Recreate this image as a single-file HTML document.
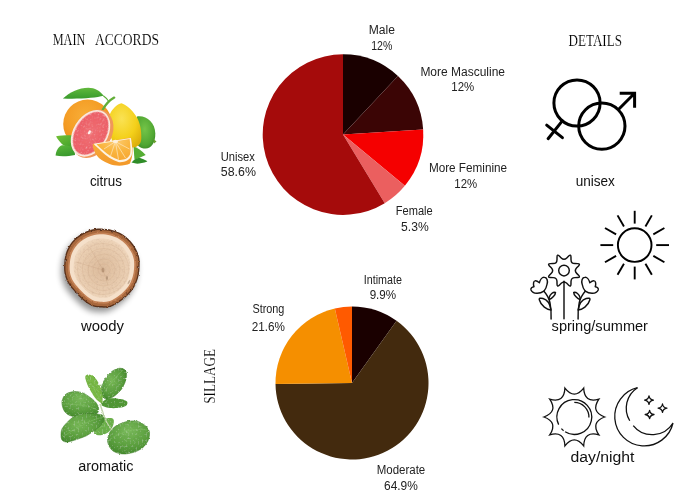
<!DOCTYPE html>
<html><head><meta charset="utf-8">
<style>
html,body{margin:0;padding:0;background:#fff;width:700px;height:500px;overflow:hidden}
svg{display:block;will-change:transform}
.l{font-family:"Liberation Sans",sans-serif;font-size:12px;fill:#222}
.c{font-family:"Liberation Sans",sans-serif;font-size:14px;fill:#111}
.h{font-family:"Liberation Serif",serif;font-size:16px;fill:#000;stroke:#fff;stroke-width:0.12px}
</style></head><body>
<svg width="700" height="500" viewBox="0 0 700 500">
<defs>
<radialGradient id="gOr" cx="0.45" cy="0.35" r="0.7">
<stop offset="0" stop-color="#f8ae38"/><stop offset="0.6" stop-color="#f49c24"/><stop offset="1" stop-color="#e58616"/>
</radialGradient>
<radialGradient id="gLem" cx="0.4" cy="0.35" r="0.75">
<stop offset="0" stop-color="#fae254"/><stop offset="0.6" stop-color="#f4d01a"/><stop offset="1" stop-color="#dcae0a"/>
</radialGradient>
<radialGradient id="gLime" cx="0.45" cy="0.4" r="0.7">
<stop offset="0" stop-color="#74c448"/><stop offset="0.7" stop-color="#4fa632"/><stop offset="1" stop-color="#367f22"/>
</radialGradient>
<radialGradient id="gGf" cx="0.5" cy="0.5" r="0.55">
<stop offset="0" stop-color="#f29090"/><stop offset="0.12" stop-color="#ef6c70"/><stop offset="1" stop-color="#eb5c64"/>
</radialGradient>
<linearGradient id="gLeaf" x1="0" y1="0" x2="0" y2="1">
<stop offset="0" stop-color="#62b83c"/><stop offset="0.5" stop-color="#4caa34"/><stop offset="1" stop-color="#3a9a2c"/>
</linearGradient>
<radialGradient id="gWedge" cx="0.55" cy="0.1" r="0.9">
<stop offset="0" stop-color="#fccb70"/><stop offset="0.5" stop-color="#fab640"/><stop offset="1" stop-color="#f7a832"/>
</radialGradient>
<radialGradient id="gWood" cx="0.5" cy="0.5" r="0.5">
<stop offset="0" stop-color="#dcbb9c"/><stop offset="0.5" stop-color="#e4c6a8"/><stop offset="0.9" stop-color="#ebd0b4"/><stop offset="1" stop-color="#efd6bc"/>
</radialGradient>
<radialGradient id="gShadow" cx="0.5" cy="0.5" r="0.5">
<stop offset="0" stop-color="#000" stop-opacity="0.45"/><stop offset="0.7" stop-color="#000" stop-opacity="0.25"/><stop offset="1" stop-color="#000" stop-opacity="0"/>
</radialGradient>
<radialGradient id="gMint" cx="0.4" cy="0.4" r="0.7">
<stop offset="0" stop-color="#78b858"/><stop offset="0.6" stop-color="#5a9e3e"/><stop offset="1" stop-color="#3e822a"/>
</radialGradient>
<radialGradient id="gMint2" cx="0.5" cy="0.3" r="0.75">
<stop offset="0" stop-color="#7aba5c"/><stop offset="0.6" stop-color="#5ca040"/><stop offset="1" stop-color="#42882c"/>
</radialGradient>
<filter id="leaf" x="-10%" y="-10%" width="120%" height="120%">
<feTurbulence type="fractalNoise" baseFrequency="0.5" numOctaves="2" seed="4" result="n"/>
<feDisplacementMap in="SourceGraphic" in2="n" scale="2.4" xChannelSelector="R" yChannelSelector="G" result="d"/>
<feColorMatrix in="n" type="matrix" values="0 0 0 0 0.8  0 0 0 0 0.92  0 0 0 0 0.7  0.9 0 0 0 -0.5" result="w"/>
<feComposite in="w" in2="d" operator="in" result="ws"/>
<feColorMatrix in="n" type="matrix" values="0 0 0 0 0.12  0 0 0 0 0.32  0 0 0 0 0.06  0 -1.2 0 0 0.62" result="k"/>
<feComposite in="k" in2="d" operator="in" result="ks"/>
<feMerge><feMergeNode in="d"/><feMergeNode in="ks"/><feMergeNode in="ws"/></feMerge>
</filter>
<filter id="bark" x="-10%" y="-10%" width="120%" height="120%">
<feTurbulence type="fractalNoise" baseFrequency="0.35" numOctaves="2" seed="7" result="n"/>
<feDisplacementMap in="SourceGraphic" in2="n" scale="2.6" xChannelSelector="R" yChannelSelector="G"/>
</filter>
<filter id="grain" x="0" y="0" width="100%" height="100%">
<feTurbulence type="fractalNoise" baseFrequency="0.35" numOctaves="2" seed="2" result="n"/>
<feColorMatrix in="n" type="matrix" values="0 0 0 0 0.6  0 0 0 0 0.42  0 0 0 0 0.3  0 0 0 -1.0 0.55" result="k"/>
<feComposite in="k" in2="SourceGraphic" operator="in" result="ks"/>
<feMerge><feMergeNode in="SourceGraphic"/><feMergeNode in="ks"/></feMerge>
</filter>
<filter id="pulp" x="0" y="0" width="100%" height="100%">
<feTurbulence type="fractalNoise" baseFrequency="0.7" numOctaves="1" seed="9" result="n"/>
<feColorMatrix in="n" type="matrix" values="0 0 0 0 0.85  0 0 0 0 0.2  0 0 0 0 0.28  1.8 0 0 0 -0.95" result="k"/>
<feComposite in="k" in2="SourceGraphic" operator="in" result="ks"/>
<feColorMatrix in="n" type="matrix" values="0 0 0 0 1  0 0 0 0 0.78  0 0 0 0 0.78  0 1.4 0 0 -0.82" result="w"/>
<feComposite in="w" in2="SourceGraphic" operator="in" result="ws"/>
<feMerge><feMergeNode in="SourceGraphic"/><feMergeNode in="ks"/><feMergeNode in="ws"/></feMerge>
</filter>
<linearGradient id="gPeel" x1="0" y1="0" x2="0.3" y2="1">
<stop offset="0" stop-color="#f8b040"/><stop offset="1" stop-color="#f39a2a"/>
</linearGradient>
<linearGradient id="gLfA" x1="0" y1="0" x2="1" y2="1">
<stop offset="0" stop-color="#74c236"/><stop offset="1" stop-color="#3e9e2c"/>
</linearGradient>
<linearGradient id="gLfB" x1="0" y1="0" x2="0.4" y2="1">
<stop offset="0" stop-color="#5cb83a"/><stop offset="1" stop-color="#3a9a2e"/>
</linearGradient>
<filter id="blur2" x="-50%" y="-50%" width="200%" height="200%"><feGaussianBlur stdDeviation="3"/></filter>
</defs>
<!-- headings -->
<text class="h" x="52.7" y="44.8" textLength="32.6" lengthAdjust="spacingAndGlyphs">MAIN</text>
<text class="h" x="94.9" y="44.8" textLength="64.1" lengthAdjust="spacingAndGlyphs">ACCORDS</text>
<text class="h" x="568.5" y="45.8" textLength="53.5" lengthAdjust="spacingAndGlyphs">DETAILS</text>
<text class="h" transform="translate(214.6,403.7) rotate(-90)" x="0" y="0" textLength="54.6" lengthAdjust="spacingAndGlyphs">SILLAGE</text>


<!-- citrus -->
<g id="citrus">
<path d="M133.5,146.5 C137,147.5 142,150.5 145.7,155.1 C142,157 138,158.5 134.5,159.8 Z" fill="#55ad34"/>
<path d="M131.5,162.5 C134,159.5 137,158 139.5,157.8 C142,158.5 145,160 147.4,161.5 C143,163 139,163.8 136,163.6 Z" fill="#2f8c28"/>
<circle cx="87.6" cy="124" r="24.4" fill="url(#gOr)"/>
<path d="M56.1,136.3 C61,135.2 67,135 74,135.2 L75,147 C68,147.5 64,146.5 61.9,144 C59,141 57,138.5 56.1,136.3 Z" fill="url(#gLfA)"/>
<path d="M55.6,155.6 C56,150 59,146.5 62,145.3 C66,145 70,146 74.5,148 L75,155 C68,156.5 61,156.8 55.6,155.6 Z" fill="url(#gLfB)"/>
<path d="M137,116.5 C146,115 155,122 155.3,133.5 C155.5,143 151,148.4 145.7,148.6 C140,148.6 136,145 136,140 Z" fill="url(#gLime)"/>
<path d="M153.5,139 L156.5,141.5 L154,143.5 Z" fill="#6aa030"/>
<path d="M121.5,103.3 C117,104 112,109 109.4,115.4 C107.5,122 108.5,132 112,140 C116,146 126,148 133,147.5 C138,147 141.3,144 141.3,138 C141.5,130 140,122 136,116 C132,110 126,104.5 121.5,103.3 Z" fill="url(#gLem)"/>
<path d="M62.9,98.5 C70,92 79,88 88.3,87.8 C95,87.8 100,91 103.6,95.8 C96,97.8 80,99.2 62.9,98.5 Z" fill="url(#gLeaf)"/>
<path d="M103.3,95.8 C105,97 107,99 108.6,101.2" stroke="#5aae36" stroke-width="1.1" fill="none"/>
<path d="M102.8,109.5 C106,104 110,100 114.2,97.6" stroke="#62ae38" stroke-width="2.3" fill="none" stroke-linecap="round"/>
<ellipse cx="92.4" cy="133.7" rx="18.9" ry="26" transform="rotate(31.4 92.4 133.7)" fill="#f0975a"/>
<ellipse cx="90.5" cy="133.33" rx="17.3" ry="25.2" transform="rotate(31.4 90.5 133.33)" fill="#fbe8de"/>
<ellipse cx="90.7" cy="133.3" rx="15.3" ry="23.2" transform="rotate(31.4 90.7 133.3)" fill="url(#gGf)" filter="url(#pulp)"/>
<ellipse cx="89.4" cy="132.3" rx="1.2" ry="2.2" transform="rotate(30 89.4 132.3)" fill="#fdf0ec"/>
<path d="M92.8,143.9 L130.8,137.6 C133.2,146 133.4,156 130,163.6 C125,166.2 115,166.4 109.6,164 C103,161.3 99,158.5 97.2,156 C94,151.5 92.4,147.5 92.8,143.9 Z" fill="url(#gPeel)"/>
<path d="M93.6,143.8 L130.9,138 C132.3,146 132.6,152 131.6,155.6 C129.5,160.5 124.5,162.6 119,162.2 C112,160 106,156 101,151 C98,148 95.5,146 93.6,143.8 Z" fill="#fdf3e2"/>
<path d="M96.5,144.2 L129.6,139 C130.6,146 130.9,151.5 130,154.6 C128,158.6 124,160.2 119.3,160 C113,158 107.5,154.5 103,150.3 C100.5,148 98.3,146.2 96.5,144.2 Z" fill="url(#gWedge)"/>
<path d="M115.4,141.6 L104,149 M115.4,141.6 L110.5,156 M115.4,141.6 L118.5,159.5 M115.4,141.6 L125.5,158 M115.4,141.6 L129.5,149" stroke="#fde6bc" stroke-width="0.8" opacity="0.9"/>
<ellipse cx="115.4" cy="141.4" rx="2.6" ry="1.6" fill="#fdf0dc"/>
</g>

<!-- wood -->
<g id="wood">
<path d="M101,228.6C104.2,228.7 108.5,229.1 112,230C115.5,230.9 119.0,232.2 122,234C125.0,235.8 127.7,238.0 130,240.5C132.3,243.0 134.4,246.1 136,249C137.6,251.9 138.7,254.7 139.3,258C139.9,261.3 139.7,265.3 139.5,268.6C139.3,271.9 138.9,274.9 138,278C137.1,281.1 135.8,284.5 134,287.5C132.2,290.5 129.7,293.4 127,296C124.3,298.6 120.8,301.2 118,303C115.2,304.8 113.0,306.2 110,307C107.0,307.8 103.1,307.7 100,307.5C96.9,307.3 94.2,306.9 91.4,305.7C88.6,304.4 85.7,302.3 83,300C80.3,297.7 77.5,294.8 75,292C72.5,289.2 69.8,286.2 68,283C66.2,279.8 65.1,276.3 64.5,273C63.9,269.7 64.0,266.3 64.3,263C64.5,259.7 65.0,256.2 66,253C67.0,249.8 68.7,246.7 70.5,244C72.3,241.3 74.6,239.0 77,237C79.4,235.0 82.3,233.3 85,232C87.7,230.7 90.3,229.9 93,229.3C95.7,228.7 97.8,228.5 101,228.6Z" fill="#000" opacity="0.42" transform="translate(-2.5,4.5)" filter="url(#blur2)"/>
<g filter="url(#bark)">
<path d="M101,228.6C104.2,228.7 108.5,229.1 112,230C115.5,230.9 119.0,232.2 122,234C125.0,235.8 127.7,238.0 130,240.5C132.3,243.0 134.4,246.1 136,249C137.6,251.9 138.7,254.7 139.3,258C139.9,261.3 139.7,265.3 139.5,268.6C139.3,271.9 138.9,274.9 138,278C137.1,281.1 135.8,284.5 134,287.5C132.2,290.5 129.7,293.4 127,296C124.3,298.6 120.8,301.2 118,303C115.2,304.8 113.0,306.2 110,307C107.0,307.8 103.1,307.7 100,307.5C96.9,307.3 94.2,306.9 91.4,305.7C88.6,304.4 85.7,302.3 83,300C80.3,297.7 77.5,294.8 75,292C72.5,289.2 69.8,286.2 68,283C66.2,279.8 65.1,276.3 64.5,273C63.9,269.7 64.0,266.3 64.3,263C64.5,259.7 65.0,256.2 66,253C67.0,249.8 68.7,246.7 70.5,244C72.3,241.3 74.6,239.0 77,237C79.4,235.0 82.3,233.3 85,232C87.7,230.7 90.3,229.9 93,229.3C95.7,228.7 97.8,228.5 101,228.6Z" fill="#5a321c"/>
<path d="M101,228.6C104.2,228.7 108.5,229.1 112,230C115.5,230.9 119.0,232.2 122,234C125.0,235.8 127.7,238.0 130,240.5C132.3,243.0 134.4,246.1 136,249C137.6,251.9 138.7,254.7 139.3,258C139.9,261.3 139.7,265.3 139.5,268.6C139.3,271.9 138.9,274.9 138,278C137.1,281.1 135.8,284.5 134,287.5C132.2,290.5 129.7,293.4 127,296C124.3,298.6 120.8,301.2 118,303C115.2,304.8 113.0,306.2 110,307C107.0,307.8 103.1,307.7 100,307.5C96.9,307.3 94.2,306.9 91.4,305.7C88.6,304.4 85.7,302.3 83,300C80.3,297.7 77.5,294.8 75,292C72.5,289.2 69.8,286.2 68,283C66.2,279.8 65.1,276.3 64.5,273C63.9,269.7 64.0,266.3 64.3,263C64.5,259.7 65.0,256.2 66,253C67.0,249.8 68.7,246.7 70.5,244C72.3,241.3 74.6,239.0 77,237C79.4,235.0 82.3,233.3 85,232C87.7,230.7 90.3,229.9 93,229.3C95.7,228.7 97.8,228.5 101,228.6Z" fill="#a8683c" transform="translate(3.57,9.38) scale(0.965)"/>
<path d="M101,228.6C104.2,228.7 108.5,229.1 112,230C115.5,230.9 119.0,232.2 122,234C125.0,235.8 127.7,238.0 130,240.5C132.3,243.0 134.4,246.1 136,249C137.6,251.9 138.7,254.7 139.3,258C139.9,261.3 139.7,265.3 139.5,268.6C139.3,271.9 138.9,274.9 138,278C137.1,281.1 135.8,284.5 134,287.5C132.2,290.5 129.7,293.4 127,296C124.3,298.6 120.8,301.2 118,303C115.2,304.8 113.0,306.2 110,307C107.0,307.8 103.1,307.7 100,307.5C96.9,307.3 94.2,306.9 91.4,305.7C88.6,304.4 85.7,302.3 83,300C80.3,297.7 77.5,294.8 75,292C72.5,289.2 69.8,286.2 68,283C66.2,279.8 65.1,276.3 64.5,273C63.9,269.7 64.0,266.3 64.3,263C64.5,259.7 65.0,256.2 66,253C67.0,249.8 68.7,246.7 70.5,244C72.3,241.3 74.6,239.0 77,237C79.4,235.0 82.3,233.3 85,232C87.7,230.7 90.3,229.9 93,229.3C95.7,228.7 97.8,228.5 101,228.6Z" fill="#c48256" transform="translate(10.20,26.80) scale(0.9)"/>
</g>
<path d="M101,228.6C104.2,228.7 108.5,229.1 112,230C115.5,230.9 119.0,232.2 122,234C125.0,235.8 127.7,238.0 130,240.5C132.3,243.0 134.4,246.1 136,249C137.6,251.9 138.7,254.7 139.3,258C139.9,261.3 139.7,265.3 139.5,268.6C139.3,271.9 138.9,274.9 138,278C137.1,281.1 135.8,284.5 134,287.5C132.2,290.5 129.7,293.4 127,296C124.3,298.6 120.8,301.2 118,303C115.2,304.8 113.0,306.2 110,307C107.0,307.8 103.1,307.7 100,307.5C96.9,307.3 94.2,306.9 91.4,305.7C88.6,304.4 85.7,302.3 83,300C80.3,297.7 77.5,294.8 75,292C72.5,289.2 69.8,286.2 68,283C66.2,279.8 65.1,276.3 64.5,273C63.9,269.7 64.0,266.3 64.3,263C64.5,259.7 65.0,256.2 66,253C67.0,249.8 68.7,246.7 70.5,244C72.3,241.3 74.6,239.0 77,237C79.4,235.0 82.3,233.3 85,232C87.7,230.7 90.3,229.9 93,229.3C95.7,228.7 97.8,228.5 101,228.6Z" fill="#f5e0ca" transform="translate(14.79,38.86) scale(0.855)"/>
<path d="M101,228.6C104.2,228.7 108.5,229.1 112,230C115.5,230.9 119.0,232.2 122,234C125.0,235.8 127.7,238.0 130,240.5C132.3,243.0 134.4,246.1 136,249C137.6,251.9 138.7,254.7 139.3,258C139.9,261.3 139.7,265.3 139.5,268.6C139.3,271.9 138.9,274.9 138,278C137.1,281.1 135.8,284.5 134,287.5C132.2,290.5 129.7,293.4 127,296C124.3,298.6 120.8,301.2 118,303C115.2,304.8 113.0,306.2 110,307C107.0,307.8 103.1,307.7 100,307.5C96.9,307.3 94.2,306.9 91.4,305.7C88.6,304.4 85.7,302.3 83,300C80.3,297.7 77.5,294.8 75,292C72.5,289.2 69.8,286.2 68,283C66.2,279.8 65.1,276.3 64.5,273C63.9,269.7 64.0,266.3 64.3,263C64.5,259.7 65.0,256.2 66,253C67.0,249.8 68.7,246.7 70.5,244C72.3,241.3 74.6,239.0 77,237C79.4,235.0 82.3,233.3 85,232C87.7,230.7 90.3,229.9 93,229.3C95.7,228.7 97.8,228.5 101,228.6Z" fill="url(#gWood)" filter="url(#grain)" transform="translate(25.50,67.00) scale(0.75)"/>
<g fill="none" stroke="#c9a282" stroke-width="0.5" opacity="0.45">
<circle cx="104" cy="270" r="6"/><circle cx="104" cy="270" r="11"/><circle cx="104" cy="270" r="16"/><circle cx="103.5" cy="269.5" r="21"/><circle cx="103" cy="269" r="25.5"/>
</g>
<path d="M103,270 L76,262 M103,270 L90,248 M103,270 L108,285" stroke="#b89070" stroke-width="0.4" opacity="0.5"/>
<ellipse cx="103" cy="270" rx="1.5" ry="2.5" fill="#9a7658" opacity="0.5"/><ellipse cx="107" cy="278" rx="0.8" ry="2" fill="#7a5a40" opacity="0.5"/><ellipse cx="129" cy="282" rx="0.8" ry="2.5" transform="rotate(30 129 282)" fill="#8a6a50" opacity="0.45"/>
</g>>

<!-- mint -->
<g id="mint" filter="url(#leaf)">
<path d="M94,432C93.8,430.5 94.8,427.8 96,426C97.2,424.2 99.2,422.3 101,421C102.8,419.7 105.1,418.7 107,418.3C108.9,417.9 111.4,417.9 112.5,418.5C113.6,419.1 113.9,420.4 113.8,422C113.7,423.6 113.0,426.2 112,428C111.0,429.8 109.7,431.3 108,432.5C106.3,433.7 103.8,434.6 102,435C100.2,435.4 98.3,435.5 97,435C95.7,434.5 94.2,433.5 94,432Z" fill="#6cb04c"/>
<path d="M102,396C101.2,394.0 101.0,389.8 101.5,387C102.0,384.2 103.6,381.3 105,379C106.4,376.7 108.3,374.6 110,373C111.7,371.4 113.3,370.3 115,369.5C116.7,368.7 118.4,368.2 120,368.2C121.6,368.2 123.4,368.7 124.5,369.5C125.6,370.3 126.2,371.4 126.5,373C126.8,374.6 126.6,376.7 126,379C125.4,381.3 124.3,384.7 123,387C121.7,389.3 119.8,391.2 118,393C116.2,394.8 114.0,396.5 112,397.5C110.0,398.5 107.7,399.2 106,399C104.3,398.8 102.8,398.0 102,396Z" fill="url(#gMint)" stroke="#3e7d2a" stroke-width="0.5"/>
<path d="M102,403C101.1,403.5 98.6,401.5 97,400C95.4,398.5 93.9,396.2 92.5,394C91.1,391.8 89.6,389.3 88.5,387C87.4,384.7 86.3,381.8 85.8,380C85.3,378.2 85.1,376.9 85.5,376C85.9,375.1 86.9,374.6 88,374.5C89.1,374.4 90.7,374.8 92,375.5C93.3,376.2 94.8,377.4 96,379C97.2,380.6 98.6,383.0 99.5,385C100.4,387.0 101.0,389.0 101.5,391C102.0,393.0 102.4,395.0 102.5,397C102.6,399.0 102.9,402.5 102,403Z" fill="#78b845"/>
<path d="M62.5,399.5C63.2,397.8 64.0,395.3 66,394C68.0,392.7 71.7,391.7 74.5,391.5C77.3,391.3 80.5,392.1 83,393C85.5,393.9 87.5,395.6 89.5,397C91.5,398.4 93.5,399.8 95,401.5C96.5,403.2 98.2,405.5 98.5,407.5C98.8,409.5 98.8,412.3 97,413.5C95.2,414.7 90.8,414.0 88,414.5C85.2,415.0 82.5,416.2 80,416.5C77.5,416.8 75.2,416.9 73,416.5C70.8,416.1 68.6,415.2 67,414C65.4,412.8 64.3,411.2 63.5,409.5C62.7,407.8 62.2,405.7 62,404C61.8,402.3 61.8,401.2 62.5,399.5Z" fill="url(#gMint2)" stroke="#3e7d2a" stroke-width="0.5"/>
<path d="M101,404C101.2,402.9 103.5,400.9 105,400C106.5,399.1 108.0,398.6 110,398.3C112.0,398.1 114.8,398.3 117,398.5C119.2,398.7 121.3,399.0 123,399.5C124.7,400.0 126.3,400.7 127,401.5C127.7,402.3 127.5,403.6 127,404.5C126.5,405.4 125.7,406.1 124,406.7C122.3,407.3 119.3,407.8 117,408C114.7,408.2 112.2,408.2 110,408C107.8,407.8 105.5,407.2 104,406.5C102.5,405.8 100.8,405.1 101,404Z" fill="#4f9636"/>
<path d="M104.5,416.5C103.5,415.1 100.2,414.5 97,414C93.8,413.5 88.7,413.2 85,413.5C81.3,413.8 78.0,414.5 75,416C72.0,417.5 69.2,420.3 67,422.5C64.8,424.7 63.0,426.9 62,429C61.0,431.1 61.0,433.2 61,435C61.0,436.8 61.2,438.8 62,440C62.8,441.2 64.3,441.8 66,442C67.7,442.2 70.0,441.5 72,441C74.0,440.5 75.7,439.8 78,439C80.3,438.2 83.5,437.2 86,436C88.5,434.8 90.8,433.0 93,431.5C95.2,430.0 97.3,428.5 99,427C100.7,425.5 102.1,424.2 103,422.5C103.9,420.8 105.5,417.9 104.5,416.5Z" fill="url(#gMint)" stroke="#3e7d2a" stroke-width="0.5"/>
<path d="M107.5,440.5C107.4,437.8 108.8,434.3 110,432C111.2,429.7 113.0,428.0 115,426.5C117.0,425.0 119.5,423.9 122,423C124.5,422.1 127.3,421.2 130,421C132.7,420.8 135.5,420.8 138,421.5C140.5,422.2 143.1,423.9 145,425.5C146.9,427.1 148.5,428.9 149.2,431C149.9,433.1 149.5,435.8 149,438C148.5,440.2 147.3,442.2 146,444C144.7,445.8 143.2,447.6 141,449C138.8,450.4 135.8,451.7 133,452.5C130.2,453.3 126.8,454.0 124,454C121.2,454.0 118.2,453.4 116,452.5C113.8,451.6 111.9,450.5 110.5,448.5C109.1,446.5 107.6,443.2 107.5,440.5Z" fill="url(#gMint2)" stroke="#3e7d2a" stroke-width="0.5"/>
<path d="M100,404 C102,410 104,416 106,421 C108,425 110,428 112,430" stroke="#c3d6ae" stroke-width="1.4" fill="none"/>
<path d="M104.5,417 C92,419 78,426 63,437 M109,440 C120,432 134,428 147,430 M102,396 C108,386 115,377 123,370 M100,400 C96,392 91,383 87,377 M62.5,404 C75,404 88,405 97,410" stroke="#8fc874" stroke-width="0.6" fill="none" opacity="0.7"/>
</g>

<!-- pie 1 -->
<g id="pie1">
<path d="M343,134.6 L343.00,54.30 A80.3,80.3 0 0 1 397.97,76.06 Z" fill="#1a0000"/>
<path d="M343,134.6 L397.97,76.06 A80.3,80.3 0 0 1 423.14,129.56 Z" fill="#3b0505"/>
<path d="M343,134.6 L423.14,129.56 A80.3,80.3 0 0 1 404.87,185.79 Z" fill="#f50000"/>
<path d="M343,134.6 L404.87,185.79 A80.3,80.3 0 0 1 384.74,203.20 Z" fill="#eb5f5f"/>
<path d="M343,134.6 L384.74,203.20 A80.3,80.3 0 1 1 343.00,54.30 Z" fill="#a50b0b"/>
</g>
<!-- pie 2 -->
<g id="pie2">
<path d="M352,383 L352.00,306.50 A76.5,76.5 0 0 1 396.58,320.83 Z" fill="#1a0000"/>
<path d="M352,383 L396.58,320.83 A76.5,76.5 0 1 1 275.51,383.96 Z" fill="#432a0e"/>
<path d="M352,383 L275.51,383.96 A76.5,76.5 0 0 1 334.84,308.45 Z" fill="#f58f00"/>
<path d="M352,383 L334.84,308.45 A76.5,76.5 0 0 1 352.00,306.50 Z" fill="#ff5a00"/>
</g>

<!-- pie labels -->
<g class="l" text-anchor="middle">
<text x="381.9" y="33.9" textLength="26.2" lengthAdjust="spacingAndGlyphs">Male</text>
<text x="381.8" y="49.7" textLength="21.1" lengthAdjust="spacingAndGlyphs">12%</text>
<text x="462.7" y="75.9" textLength="84.6" lengthAdjust="spacingAndGlyphs">More Masculine</text>
<text x="462.8" y="90.8" textLength="22.9" lengthAdjust="spacingAndGlyphs">12%</text>
<text x="468" y="171.9" textLength="78.2" lengthAdjust="spacingAndGlyphs">More Feminine</text>
<text x="465.7" y="187.6" textLength="22.8" lengthAdjust="spacingAndGlyphs">12%</text>
<text x="414.2" y="214.5" textLength="36.9" lengthAdjust="spacingAndGlyphs">Female</text>
<text x="414.9" y="230.6" textLength="27.6" lengthAdjust="spacingAndGlyphs">5.3%</text>
<text x="237.7" y="160.9" textLength="34.1" lengthAdjust="spacingAndGlyphs">Unisex</text>
<text x="238.4" y="176" textLength="35.1" lengthAdjust="spacingAndGlyphs">58.6%</text>
<text x="382.9" y="283.9" textLength="38.2" lengthAdjust="spacingAndGlyphs">Intimate</text>
<text x="382.9" y="298.7" textLength="26.5" lengthAdjust="spacingAndGlyphs">9.9%</text>
<text x="268.4" y="313" textLength="32" lengthAdjust="spacingAndGlyphs">Strong</text>
<text x="268.4" y="330.8" textLength="33.2" lengthAdjust="spacingAndGlyphs">21.6%</text>
<text x="401" y="473.8" textLength="48.5" lengthAdjust="spacingAndGlyphs">Moderate</text>
<text x="400.9" y="489.8" textLength="33.8" lengthAdjust="spacingAndGlyphs">64.9%</text>
</g>

<!-- category labels -->
<g class="c">
<text x="89.9" y="186.1" textLength="32.1" lengthAdjust="spacingAndGlyphs">citrus</text>
<text x="81" y="330.8" textLength="43" lengthAdjust="spacingAndGlyphs">woody</text>
<text x="78.2" y="471" textLength="55.3" lengthAdjust="spacingAndGlyphs">aromatic</text>
<text x="575.7" y="185.9" textLength="39.2" lengthAdjust="spacingAndGlyphs">unisex</text>
<text x="551.6" y="330.9" textLength="96.4" lengthAdjust="spacingAndGlyphs">spring/summer</text>
<text x="570.5" y="462.3" textLength="64" lengthAdjust="spacingAndGlyphs">day/night</text>
</g>

<!-- gender icon -->
<g fill="none" stroke="#000" stroke-width="3" stroke-linecap="round">
<circle cx="577" cy="103" r="23.1"/>
<circle cx="601.85" cy="126.1" r="23.15"/>
<path d="M562.3,120.9 L548.1,138.7 M546.7,125.1 L562.4,137.7"/>
<path d="M618.2,109.7 L634.6,93.3 M619.7,93.3 L634.6,93.3 L634.6,107.8" stroke-linejoin="miter" stroke-linecap="butt"/>
</g>

<!-- sun (spring/summer) -->
<g fill="none" stroke="#000" stroke-width="1.9">
<circle cx="634.7" cy="245.1" r="16.8"/>
<g id="rays" transform="translate(634.7,245.1)">
<path d="M0,-21.5V-34.3" transform="rotate(0)"/>
<path d="M0,-21.5V-34.3" transform="rotate(30)"/>
<path d="M0,-21.5V-34.3" transform="rotate(60)"/>
<path d="M0,-21.5V-34.3" transform="rotate(90)"/>
<path d="M0,-21.5V-34.3" transform="rotate(120)"/>
<path d="M0,-21.5V-34.3" transform="rotate(150)"/>
<path d="M0,-21.5V-34.3" transform="rotate(180)"/>
<path d="M0,-21.5V-34.3" transform="rotate(210)"/>
<path d="M0,-21.5V-34.3" transform="rotate(240)"/>
<path d="M0,-21.5V-34.3" transform="rotate(270)"/>
<path d="M0,-21.5V-34.3" transform="rotate(300)"/>
<path d="M0,-21.5V-34.3" transform="rotate(330)"/>
</g>
</g>


<!-- flowers -->
<g fill="none" stroke="#111" stroke-width="1.45" stroke-linecap="round" stroke-linejoin="round">
<path d="M568.71,256.03Q570.93,253.88 570.97,256.97L571.01,259.67Q571.07,263.53 574.93,263.59L577.63,263.63Q580.72,263.67 578.57,265.89L576.69,267.83Q574.00,270.60 576.69,273.37L578.57,275.31Q580.72,277.53 577.63,277.57L574.93,277.61Q571.07,277.67 571.01,281.53L570.97,284.23Q570.93,287.32 568.71,285.17L566.77,283.29Q564.00,280.60 561.23,283.29L559.29,285.17Q557.07,287.32 557.03,284.23L556.99,281.53Q556.93,277.67 553.07,277.61L550.37,277.57Q547.28,277.53 549.43,275.31L551.31,273.37Q554.00,270.60 551.31,267.83L549.43,265.89Q547.28,263.67 550.37,263.63L553.07,263.59Q556.93,263.53 556.99,259.67L557.03,256.97Q557.07,253.88 559.29,256.03L561.23,257.91Q564.00,260.60 566.77,257.91Z"/>
<circle cx="564" cy="270.6" r="5.3"/>
<path d="M564,281.2V318.8"/>
<g id="tulip">
<path d="M543.9,291.2 C540,294 533,294.5 531,290 C530.5,288 532,287 534,286.7 C533,284 533.5,281 535,280.9 C536.5,280.5 538.5,282 539.4,282.7 C540,280 542,277 544.4,277.3 C547,277.5 548,281 547.1,284 C546.5,287.5 545,290 543.9,291.2 Z"/>
<path d="M543.9,291.2 C546.5,294 549,298 550,303 C551,308 551.3,314 551.1,319"/>
<path d="M549,298 C550,294 553,292 555.5,292.4 C555.5,295 552,298.5 549.3,299.5"/>
<path d="M551.1,310 C547,309.5 541,306 539.4,300 C538.5,298 541,298 543,298.5 C547,299.5 550,304 551,309.8"/>
</g>
<use href="#tulip" transform="translate(1129.2,0) scale(-1,1)"/>
</g>

<!-- day sun -->
<g fill="none" stroke="#111" stroke-width="1.3" stroke-linecap="butt">
<path d="M564.91,388.09Q574.30,400.11 583.69,388.09Q584.23,403.34 598.89,399.13Q590.36,411.78 604.70,417.00Q590.36,422.22 598.89,434.87Q584.23,430.66 583.69,445.91Q574.30,433.89 564.91,445.91Q564.37,430.66 549.71,434.87Q558.24,422.22 543.90,417.00Q558.24,411.78 549.71,399.13Q564.37,403.34 564.91,388.09Z" stroke-linejoin="miter" stroke-miterlimit="10"/>
<path d="M558.66,424.63A17.4,17.4 0 1 1 565.08,431.76"/>
<path d="M563.59,430.71A17.4,17.4 0 0 1 561.37,428.64"/>
<path d="M574.30,402.40A14.6,14.6 0 0 1 588.89,417.51"/>
</g>
<!-- moon -->
<g fill="none" stroke="#111" stroke-width="1.3" stroke-linejoin="miter">
<path d="M637.5,387.7 A29.5,29.5 0 1 0 673,423 A24.3,24.3 0 0 1 633.23,425.57"/>
<path d="M629.75,420.78 A24.3,24.3 0 0 1 637.5,387.7"/>
<path d="M649,395.90000000000003 Q649.55,399.55 653.4,400.1 Q649.55,400.65000000000003 649,404.3 Q648.45,400.65000000000003 644.6,400.1 Q648.45,399.55 649,395.90000000000003Z M662.5,404.0 Q663.05,407.65 666.9,408.2 Q663.05,408.75 662.5,412.4 Q661.95,408.75 658.1,408.2 Q661.95,407.65 662.5,404.0Z M649.6,410.3 Q650.15,413.95 654.0,414.5 Q650.15,415.05 649.6,418.7 Q649.0500000000001,415.05 645.2,414.5 Q649.0500000000001,413.95 649.6,410.3Z" stroke-width="1.3" stroke-linejoin="round"/>
</g>

</svg>
</body></html>
